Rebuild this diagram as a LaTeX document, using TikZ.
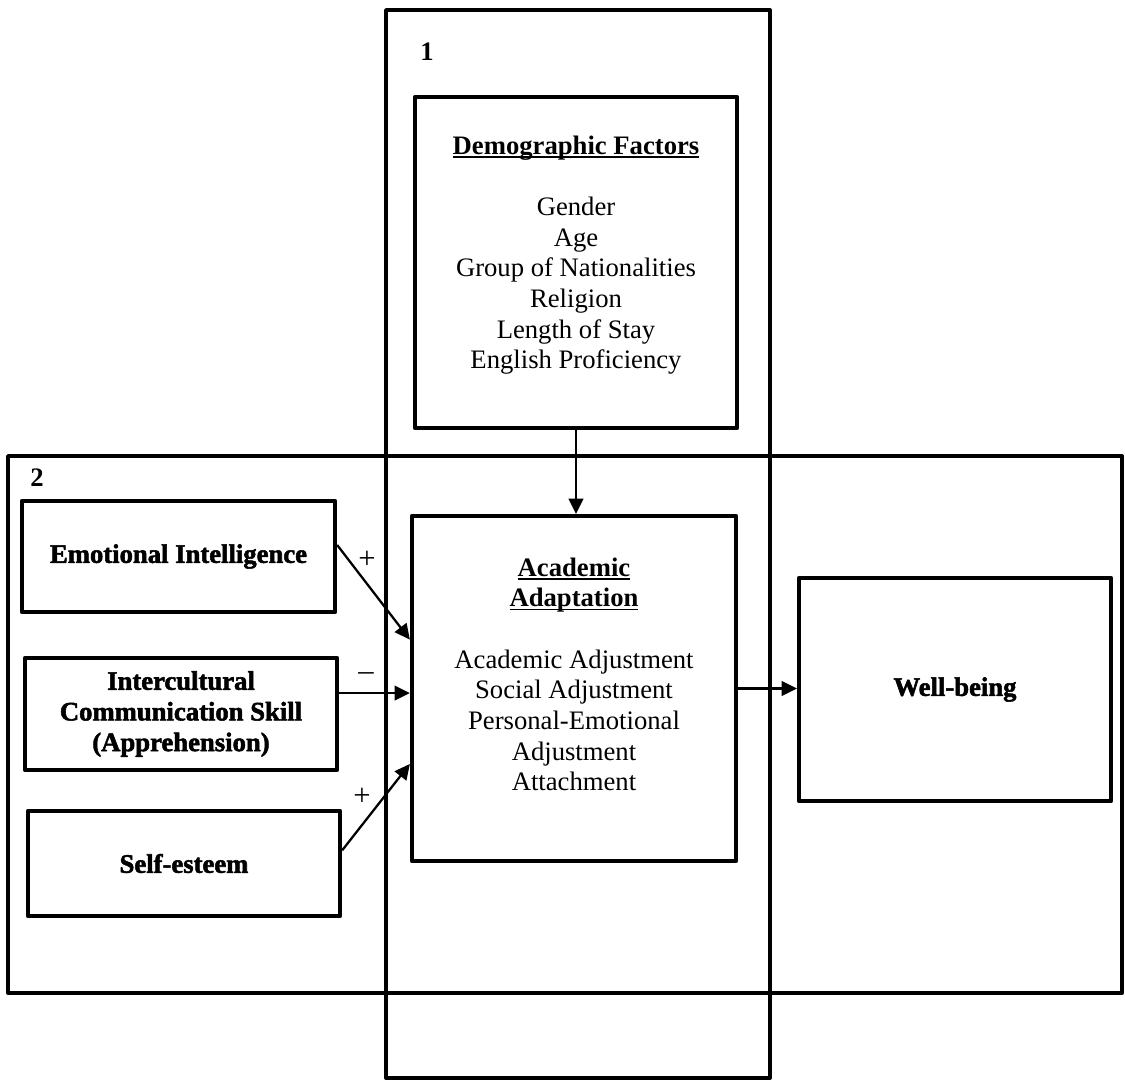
\documentclass[tikz,border=0pt]{standalone}
\usepackage{fontspec}
\setmainfont{Liberation Serif}
\newfontfamily\heavyfont{Liberation Serif}[FakeBold=2]
\usetikzlibrary{calc,arrows.meta}

% underline that crosses the descenders, close under the baseline
\newcommand\ulbar[1]{\setbox0\hbox{#1}\rlap{\rule[-2.6pt]{\wd0}{1.2pt}}\box0}

\begin{document}
\begin{tikzpicture}[x=0.75pt,y=-0.75pt,
  every node/.style={font=\fontsize{20}{23}\selectfont},
  frame/.style={draw, line width=2.9pt, line join=round, inner sep=0pt},
  box/.style={draw, line width=3.2pt, line join=round, inner sep=0pt, align=center},
  heavy/.style={font=\fontsize{20}{23}\selectfont\heavyfont\bfseries},
  txt/.style={align=center, inner sep=0pt},
  arr/.style={line width=1.7pt, -{Triangle[length=11.5pt,width=11pt]}},
  sign/.style={inner sep=0pt, font=\fontsize{23}{26}\selectfont},
  num/.style={inner sep=0pt, font=\fontsize{20}{23}\selectfont\bfseries}]
\useasboundingbox (0,0) rectangle (1125,1081);

% the two overlapping frames
\node[frame, minimum width=288pt, minimum height=801pt] (frame1) at (578,544) {};
\node[frame, minimum width=835.5pt, minimum height=402.75pt] (frame2) at (565,724.5) {};
\node[num] (n1) at (427,52) {1};
\node[num] (n2) at (37,478) {2};

% demographic factors
\node[box, minimum width=241.5pt, minimum height=248.25pt] (demo) at (576,262.5) {};
\node[txt] (demotext) at (576,255) {\textbf{\ulbar{Demographic Factors}}\\[23pt]
  Gender\\Age\\Group of Nationalities\\Religion\\Length of Stay\\English Proficiency};

% academic adaptation
\node[box, minimum width=243pt, minimum height=258.75pt] (acad) at (574,688.5) {};
\node[txt] (acadtext) at (574,674.5) {\textbf{\ulbar{Academic}}\\\textbf{\ulbar{Adaptation}}\\[23pt]
  Academic Adjustment\\Social Adjustment\\Personal-Emotional\\Adjustment\\Attachment};

% predictors
\node[box, heavy, minimum width=234.75pt, minimum height=83.25pt] (emo) at (178.5,556.5) {Emotional Intelligence};
\node[box, heavy, minimum width=234pt, minimum height=84pt] (icc) at (181,714)
  {Intercultural\\Communication Skill\\(Apprehension)};
\node[box, heavy, minimum width=234pt, minimum height=78.75pt] (self) at (184,863.5) {Self-esteem};

% outcome
\node[box, heavy, minimum width=234pt, minimum height=167.25pt] (well) at (955,689.5) {Well-being};

% connectors
\draw[arr] (demo.south) -- (demo.south |- acad.north);
\draw[arr] ($(emo.south east)!0.6!(emo.north east)$) -- ($(acad.south west)!0.64!(acad.north west)$);
\coordinate (iccout) at ($(icc.south east)!0.68!(icc.north east)$);
\draw[arr] (iccout) -- (iccout -| acad.west);
\draw[arr] ($(self.south east)!0.62!(self.north east)$) -- ($(acad.south west)!0.284!(acad.north west)$);
\draw[arr] (acad.east) -- (acad.east -| well.west);

% signs of the effects
\node[sign] (s1) at (367,560) {+};
\node[sign] (s2) at (366,677) {–};
\node[sign] (s3) at (362,797) {+};
\end{tikzpicture}
\end{document}
